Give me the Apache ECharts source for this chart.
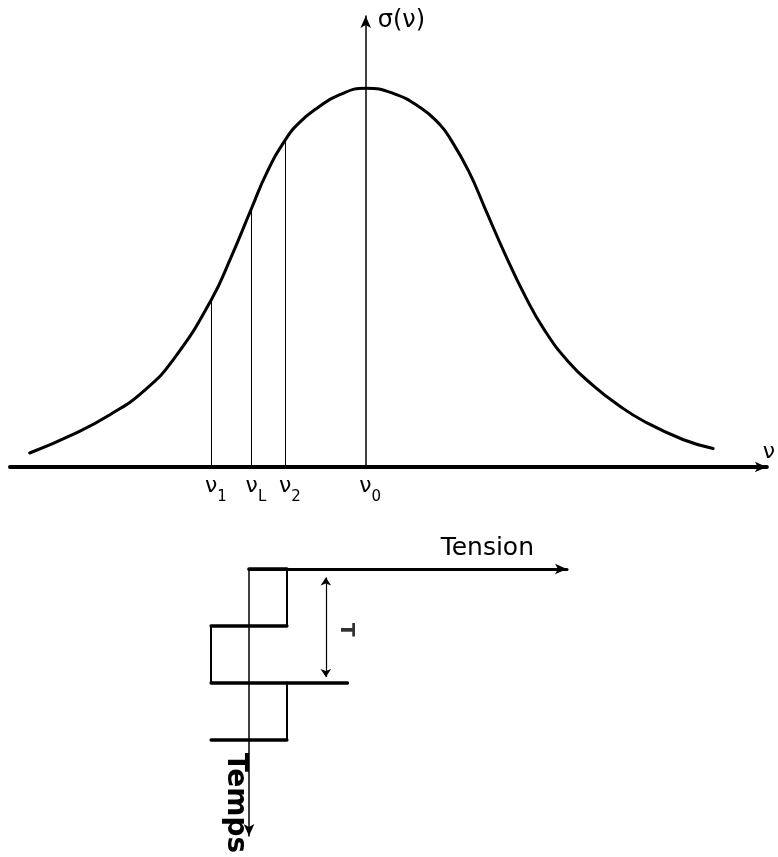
<!DOCTYPE html>
<html>
<head>
<meta charset="utf-8">
<style>
  html, body { margin: 0; padding: 0; background: #ffffff; }
  #chart { width: 778px; height: 857px; }
</style>
<script src="https://cdn.jsdelivr.net/npm/echarts@6/dist/echarts.min.js"></script>
</head>
<body>
<div id="chart"></div>
<script>
// Line profile sigma(nu): frequency offsets (arbitrary units, nu0 = 0) and amplitudes
const nu    = [-44.4, -38.6, -33.8, -29.3, -25.3, -20.4, -17.8, -15.1, -13.0, -10.6, -8.8, -6.4, -3.5, 0,
               3.7, 7.3, 9.7, 11.2, 13.6, 15.8, 18.3, 21.0, 23.6, 26.8, 30.1, 33.4, 36.7, 41.9, 45.9];
const sigma = [3.1, 7.3, 11.6, 16.9, 24.1, 37.1, 46.5, 57.3, 65.5, 72.6, 76.3, 79.6, 82.5, 84.0,
               82.8, 79.6, 76.1, 72.7, 65.6, 57.2, 47.6, 38.1, 30.4, 23.3, 18.0, 13.7, 10.2, 6.1, 4.1];

// Marked frequencies on the nu axis
const markSubs  = ['1', 'L', '2', '0'];
const markNu    = [-20.4, -15.1, -10.6, 0];
const markSigma = [37.1, 57.3, 72.6, 84.0];

// Applied voltage vs time: plateau levels between half-period boundaries
const halfPeriods = [0, 1, 2, 3];
const levels      = [1, -1, 1, -1];
const periodTension  = 2.03;     // where the period T is marked
const periodSpan     = [0.15, 1.9];
const periodTickEnd  = 2.6;      // reference tick at the end of the period
const periodLabelPos = [2.56, 1.07];

const FONT = 'DejaVu Sans';

// drop lines from the axis up to the profile (nu0 is carried by the sigma axis itself)
const drops = [];
for (let i = 0; i < markNu.length; i++) {
  if (markNu[i] !== 0) drops.push({ coords: [[markNu[i], 0], [markNu[i], markSigma[i]]] });
}

// square wave: horizontal jumps at each boundary, vertical plateaus in between
const jumps = [];
const plateaus = [];
for (let i = 0; i < halfPeriods.length; i++) {
  const from = i === 0 ? 0 : levels[i - 1];
  let to = levels[i];
  if (halfPeriods[i] === 2) to = periodTickEnd;   // jump at t = T continues out to the tick
  jumps.push({ coords: [[from, halfPeriods[i]], [to, halfPeriods[i]]] });
  if (i < halfPeriods.length - 1) {
    plateaus.push({ coords: [[levels[i], halfPeriods[i]], [levels[i], halfPeriods[i + 1]]] });
  }
}

function markLabel(value) {
  for (let i = 0; i < markNu.length; i++) {
    if (Math.abs(markNu[i] - value) < 1e-6) return '{v|ν}{s|' + markSubs[i] + '}';
  }
  return '';
}

const chart = echarts.init(document.getElementById('chart'));
chart.setOption({
  animation: false,
  backgroundColor: '#ffffff',
  grid: [
    { left: 10, right: 9, top: 16, bottom: 390 },
    { left: 249, top: 569, width: 318, height: 267 }
  ],
  xAxis: [
    {
      gridIndex: 0, type: 'value', min: -47, max: 53,
      name: 'ν', nameLocation: 'end', nameGap: 2,
      nameTextStyle: { fontFamily: FONT, fontSize: 22, color: '#000', align: 'center', verticalAlign: 'bottom', padding: [0, 0, 4, 0] },
      axisLine: { show: true, symbol: ['none', 'arrow'], symbolSize: [8, 12], lineStyle: { color: '#000', width: 4 } },
      axisTick: { show: false },
      splitLine: { show: false },
      axisLabel: {
        show: true, customValues: markNu, margin: 8, color: '#000',
        formatter: markLabel,
        rich: {
          v: { fontFamily: FONT, fontSize: 22, color: '#000', verticalAlign: 'top', padding: [0, 0, 0, 9] },
          s: { fontFamily: FONT, fontSize: 15, color: '#000', verticalAlign: 'bottom', padding: [15, 0, 0, 0] }
        }
      }
    },
    {
      gridIndex: 1, type: 'value', min: 0, max: 8.4, position: 'top',
      name: 'Tension', nameLocation: 'end', nameGap: -33,
      nameTextStyle: { fontFamily: FONT, fontSize: 25, color: '#000', align: 'right', verticalAlign: 'bottom', padding: [0, 0, 8, 0] },
      axisLine: { show: true, symbol: ['none', 'arrow'], symbolSize: [8, 12], lineStyle: { color: '#000', width: 3 } },
      axisTick: { show: false }, axisLabel: { show: false }, splitLine: { show: false }
    }
  ],
  yAxis: [
    {
      gridIndex: 0, type: 'value', min: 0, max: 100,
      name: 'σ(ν)', nameLocation: 'end', nameGap: -5,
      nameTextStyle: { fontFamily: FONT, fontSize: 24, color: '#000', align: 'left', verticalAlign: 'middle', padding: [0, 0, 0, 12] },
      axisLine: { show: true, onZero: true, symbol: ['none', 'arrow'], symbolSize: [8, 12], lineStyle: { color: '#000', width: 1.5 } },
      axisTick: { show: false }, axisLabel: { show: false }, splitLine: { show: false }
    },
    {
      gridIndex: 1, type: 'value', min: 0, max: 4.7, inverse: true,
      name: 'Temps', nameLocation: 'end', nameGap: -33, nameRotate: -90,
      nameTextStyle: { fontFamily: FONT, fontSize: 28, fontWeight: 'bold', color: '#000', align: 'center', verticalAlign: 'top' },
      axisLine: { show: true, onZero: true, symbol: ['arrow', 'none'], symbolSize: [8, 12], lineStyle: { color: '#000', width: 1.5 } },
      axisTick: { show: false }, axisLabel: { show: false }, splitLine: { show: false }
    }
  ],
  series: [
    {
      name: 'profil', type: 'line', xAxisIndex: 0, yAxisIndex: 0,
      data: nu.map((v, i) => [v, sigma[i]]),
      smooth: 0.5, showSymbol: false, silent: true,
      lineStyle: { color: '#000', width: 3, cap: 'round', join: 'round' }
    },
    {
      name: 'repères', type: 'lines', coordinateSystem: 'cartesian2d', xAxisIndex: 0, yAxisIndex: 0,
      data: drops, silent: true,
      lineStyle: { color: '#000', width: 1, opacity: 1 }
    },
    {
      name: 'commutations', type: 'lines', coordinateSystem: 'cartesian2d', xAxisIndex: 1, yAxisIndex: 1,
      data: jumps, silent: true, clip: false,
      lineStyle: { color: '#000', width: 3.5, opacity: 1, cap: 'round' }
    },
    {
      name: 'paliers', type: 'lines', coordinateSystem: 'cartesian2d', xAxisIndex: 1, yAxisIndex: 1,
      data: plateaus, silent: true, clip: false,
      lineStyle: { color: '#000', width: 2, opacity: 1, cap: 'round' }
    },
    {
      name: 'période', type: 'lines', coordinateSystem: 'cartesian2d', xAxisIndex: 1, yAxisIndex: 1,
      data: [{ coords: [[periodTension, periodSpan[0]], [periodTension, periodSpan[1]]] }],
      symbol: ['arrow', 'arrow'], symbolSize: 8, silent: true,
      lineStyle: { color: '#000', width: 1.2, opacity: 1 }
    },
    {
      name: 'T', type: 'scatter', xAxisIndex: 1, yAxisIndex: 1,
      data: [periodLabelPos], symbolSize: 1, silent: true,
      itemStyle: { color: 'rgba(0,0,0,0)' },
      label: { show: true, position: 'inside', formatter: 'T', rotate: -90, fontFamily: FONT, fontSize: 20, fontWeight: 'bold', color: '#000' }
    }
  ]
});
</script>
</body>
</html>
